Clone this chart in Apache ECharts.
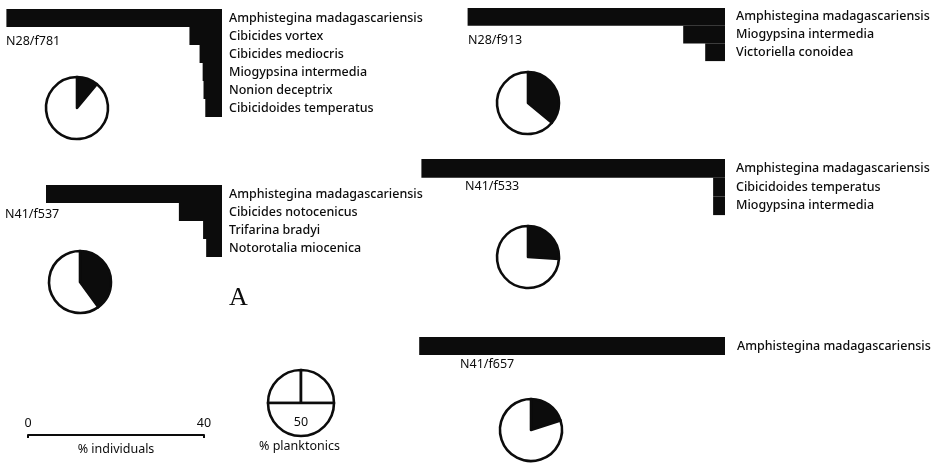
<!DOCTYPE html>
<html>
<head>
<meta charset="utf-8">
<script src="https://cdn.jsdelivr.net/npm/echarts@6/dist/echarts.min.js"></script>
<style>
  html, body { margin: 0; padding: 0; background: #fff; }
  #chart { width: 939px; height: 466px; }
</style>
</head>
<body>
<div id="chart"></div>
<script>
// Foraminifera assemblages: % individuals per species and % planktonics per sample
const sites = ['N28/f781', 'N28/f913', 'N41/f537', 'N41/f533', 'N41/f657'];

const speciesF781 = ['Amphistegina madagascariensis', 'Cibicides vortex', 'Cibicides mediocris',
  'Miogypsina intermedia', 'Nonion deceptrix', 'Cibicidoides temperatus'];
const valuesF781 = [49, 7.4, 5.1, 4.4, 4.2, 3.8];

const speciesF913 = ['Amphistegina madagascariensis', 'Miogypsina intermedia', 'Victoriella conoidea'];
const valuesF913 = [58.5, 9.5, 4.5];

const speciesF537 = ['Amphistegina madagascariensis', 'Cibicides notocenicus', 'Trifarina bradyi',
  'Notorotalia miocenica'];
const valuesF537 = [40, 9.8, 4.3, 3.6];

const speciesF533 = ['Amphistegina madagascariensis', 'Cibicidoides temperatus', 'Miogypsina intermedia'];
const valuesF533 = [69, 2.7, 2.7];

const speciesF657 = ['Amphistegina madagascariensis'];
const valuesF657 = [69.5];

// % planktonic individuals per sample
const planktonics = [11, 36, 40, 26, 20];

// scale bar and legend pie
const scaleTicks = [0, 40];
const legendQuarters = [25, 25, 50];

const speciesLists = [speciesF781, speciesF913, speciesF537, speciesF533, speciesF657];
const valueLists = [valuesF781, valuesF913, valuesF537, valuesF533, valuesF657];

// layout: pixels per percent shared by every panel and the scale bar
const PX = 4.4;
const panels = [
  { right: 222, top: 9,   rowH: 18,   max: 50, margin: 7,  site: [6, 43],   pie: [77, 108] },
  { right: 725, top: 8,   rowH: 17.7, max: 60, margin: 11, site: [468, 42], pie: [528, 103] },
  { right: 222, top: 185, rowH: 18,   max: 50, margin: 7,  site: [5, 216],  pie: [80, 282] },
  { right: 725, top: 159, rowH: 18.7, max: 70, margin: 11, site: [465, 188], pie: [528, 257] },
  { right: 725, top: 337, rowH: 18,   max: 70, margin: 12, site: [460, 366], pie: [531, 430] }
];

const textFont = 'Noto Sans';
const ink = '#0c0c0c';

const grid = [], xAxis = [], yAxis = [], series = [], graphic = [];

panels.forEach((p, i) => {
  const w = p.max * PX;
  grid.push({ left: p.right - w, top: p.top, width: w, height: p.rowH * speciesLists[i].length });
  xAxis.push({ gridIndex: i, type: 'value', min: 0, max: p.max, inverse: true, show: false });
  yAxis.push({
    gridIndex: i, type: 'category', data: speciesLists[i], inverse: true, position: 'right',
    axisLine: { show: false }, axisTick: { show: false }, splitLine: { show: false },
    axisLabel: { margin: p.margin, color: ink, fontSize: 12.5, fontFamily: textFont, fontWeight: 500 }
  });
  series.push({
    type: 'bar', xAxisIndex: i, yAxisIndex: i, data: valueLists[i],
    barWidth: '100%', itemStyle: { color: ink }, silent: true
  });
  series.push({
    type: 'pie', center: p.pie, radius: 31, startAngle: 90, clockwise: true, silent: true,
    label: { show: false }, labelLine: { show: false },
    itemStyle: { borderColor: ink, borderWidth: 2.6 },
    data: [
      { value: planktonics[i], itemStyle: { color: ink } },
      { value: 100 - planktonics[i], itemStyle: { color: '#fff' } }
    ]
  });
  graphic.push({
    type: 'text', left: p.site[0], top: p.site[1] - 8,
    style: { text: sites[i], fill: ink, font: '12.5px "Noto Sans"' }
  });
});

// scale bar for % individuals
const si = panels.length;
grid.push({ left: 28, top: 425, width: 40 * PX, height: 10 });
xAxis.push({
  gridIndex: si, type: 'value', min: scaleTicks[0], max: scaleTicks[1], interval: scaleTicks[1],
  position: 'bottom',
  axisLine: { show: true, lineStyle: { color: ink, width: 2 } },
  axisTick: { show: true, length: 3, lineStyle: { color: ink, width: 2 } },
  splitLine: { show: false },
  axisLabel: { inside: true, margin: 5, color: ink, fontSize: 12.5, fontFamily: textFont },
  name: '% individuals', nameLocation: 'middle', nameGap: 8,
  nameTextStyle: { color: ink, fontSize: 12.5, fontFamily: textFont }
});
yAxis.push({ gridIndex: si, type: 'value', show: false });

// legend pie for % planktonics
series.push({
  type: 'pie', center: [301, 403], radius: 33, startAngle: 180, clockwise: true, silent: true,
  itemStyle: { color: '#fff', borderColor: ink, borderWidth: 2.6 },
  labelLine: { show: false },
  label: { show: false },
  data: [
    { value: legendQuarters[0] },
    { value: legendQuarters[1] },
    { value: legendQuarters[2], label: { show: true, position: 'inside', formatter: '50',
        color: ink, fontSize: 12.5, fontFamily: textFont } }
  ]
});
graphic.push({
  type: 'line', shape: { x1: 301, y1: 403, x2: 301, y2: 411 },
  style: { stroke: ink, lineWidth: 2.5 }
});
graphic.push({
  type: 'text', left: 259, top: 440,
  style: { text: '% planktonics', fill: ink, font: '12.5px "Noto Sans"' }
});
graphic.push({
  type: 'text', left: 229, top: 285,
  style: { text: 'A', fill: ink, font: '26px "Liberation Serif"' }
});

const chart = echarts.init(document.getElementById('chart'), null, { renderer: 'canvas' });
chart.setOption({
  backgroundColor: '#fff',
  animation: false,
  grid, xAxis, yAxis, series, graphic
});
</script>
</body>
</html>
